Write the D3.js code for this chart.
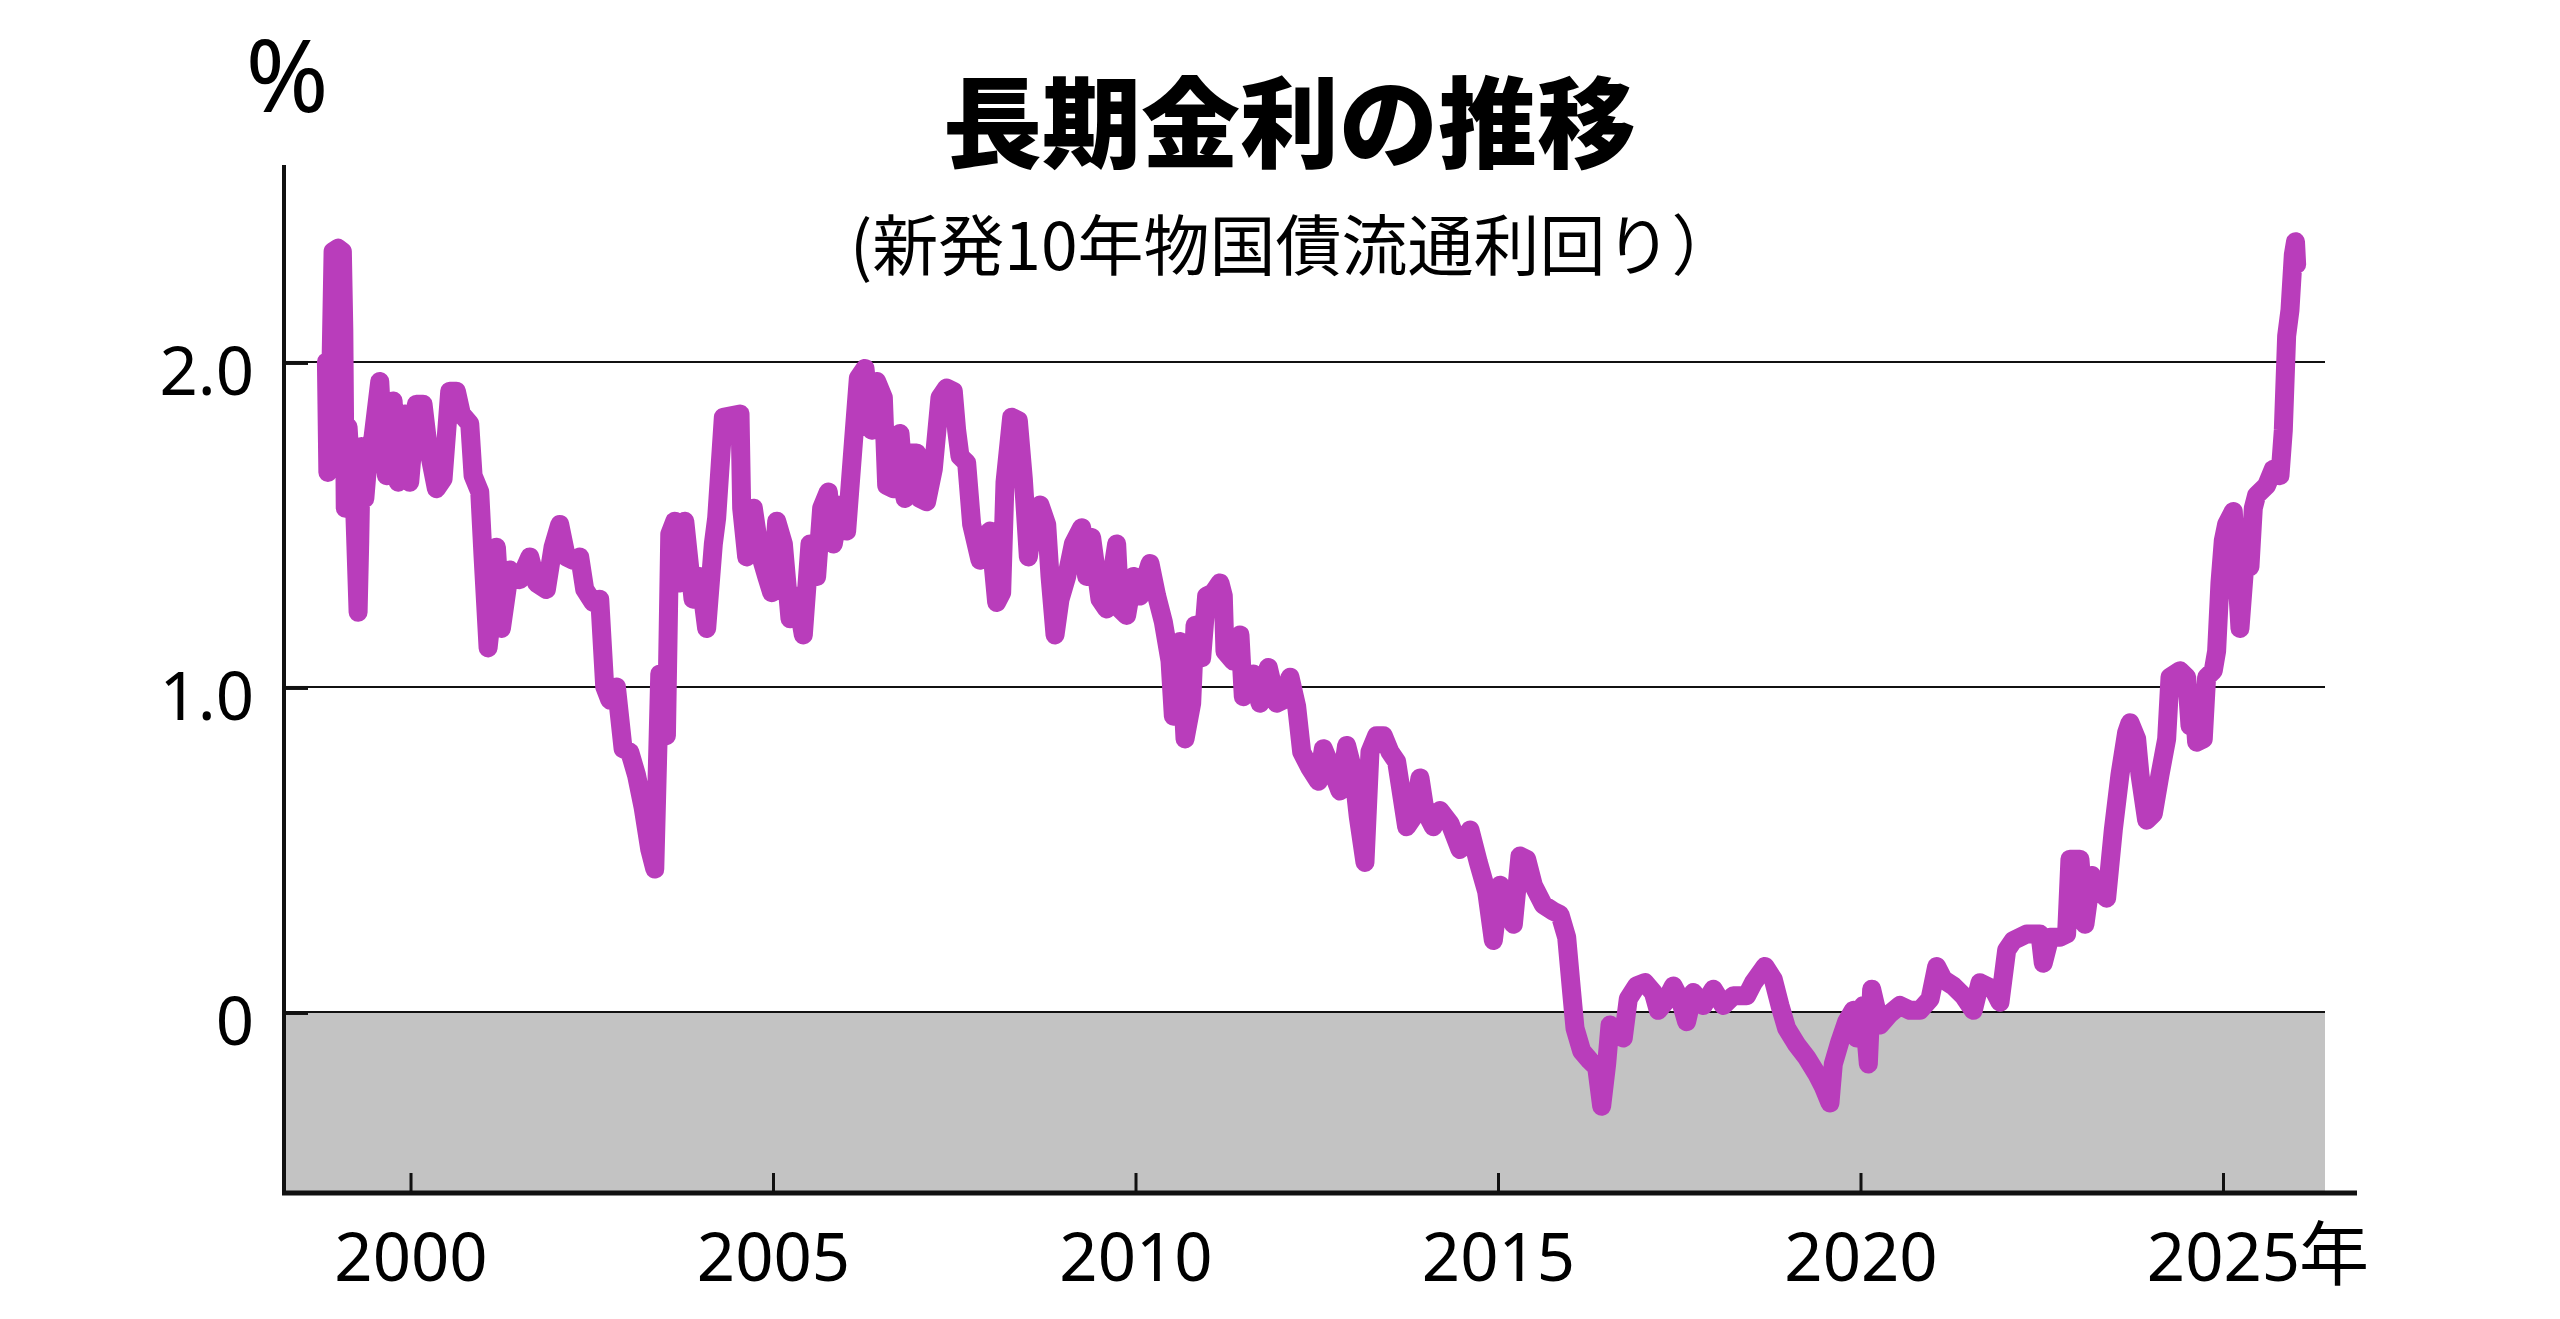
<!DOCTYPE html>
<html lang="ja">
<head>
  <meta charset="UTF-8">
  <title>長期金利の推移</title>
  <script src="https://d3js.org/d3.v7.min.js"></script>
  <style>
    html, body { margin: 0; padding: 0; background: #fff; }
    #chart { width: 2560px; height: 1319px; }
    text { fill: #000; }
  </style>
</head>
<body>
  <div id="chart"></div>

  <script>
    // decimal year of each sample
    const dates = [
      1998.840, 1998.860, 1998.900, 1998.932, 1999.001, 1999.060, 1999.080, 1999.100, 1999.139, 1999.185,
      1999.230, 1999.277, 1999.300, 1999.323, 1999.370, 1999.415, 1999.484, 1999.576, 1999.620, 1999.668,
      1999.760, 1999.829, 1999.920, 1999.989, 2000.081, 2000.173, 2000.242, 2000.357, 2000.449, 2000.541,
      2000.633, 2000.702, 2000.817, 2000.863, 2000.955, 2001.001, 2001.070, 2001.139, 2001.185, 2001.254,
      2001.369, 2001.507, 2001.645, 2001.737, 2001.874, 2001.966, 2002.058, 2002.150, 2002.242, 2002.334,
      2002.403, 2002.518, 2002.610, 2002.679, 2002.748, 2002.840, 2002.932, 2003.024, 2003.116, 2003.208,
      2003.300, 2003.369, 2003.438, 2003.530, 2003.576, 2003.645, 2003.714, 2003.783, 2003.897, 2003.993,
      2004.085, 2004.177, 2004.223, 2004.315, 2004.545, 2004.568, 2004.637, 2004.729, 2004.821, 2004.913,
      2004.982, 2005.051, 2005.143, 2005.234, 2005.326, 2005.418, 2005.510, 2005.602, 2005.671, 2005.763,
      2005.832, 2005.924, 2006.016, 2006.108, 2006.177, 2006.269, 2006.361, 2006.430, 2006.522, 2006.568,
      2006.660, 2006.752, 2006.821, 2006.890, 2006.982, 2007.028, 2007.119, 2007.211, 2007.303, 2007.395,
      2007.487, 2007.533, 2007.579, 2007.671, 2007.740, 2007.855, 2007.993, 2008.085, 2008.154, 2008.200,
      2008.292, 2008.384, 2008.453, 2008.522, 2008.591, 2008.683, 2008.775, 2008.821, 2008.890, 2008.959,
      2009.051, 2009.143, 2009.258, 2009.326, 2009.395, 2009.510, 2009.602, 2009.740, 2009.786, 2009.878,
      2009.970, 2010.062, 2010.200, 2010.292, 2010.384, 2010.476, 2010.522, 2010.614, 2010.683, 2010.775,
      2010.821, 2010.913, 2010.981, 2011.073, 2011.165, 2011.211, 2011.234, 2011.349, 2011.441, 2011.487,
      2011.625, 2011.717, 2011.832, 2011.947, 2012.039, 2012.131, 2012.223, 2012.292, 2012.407, 2012.522,
      2012.591, 2012.683, 2012.820, 2012.912, 2013.004, 2013.073, 2013.165, 2013.234, 2013.326, 2013.418,
      2013.510, 2013.602, 2013.740, 2013.832, 2013.924, 2013.993, 2014.108, 2014.200, 2014.338, 2014.476,
      2014.614, 2014.729, 2014.844, 2014.936, 2015.028, 2015.120, 2015.212, 2015.303, 2015.395, 2015.487,
      2015.625, 2015.763, 2015.855, 2015.947, 2016.016, 2016.062, 2016.154, 2016.269, 2016.361, 2016.430,
      2016.499, 2016.545, 2016.636, 2016.728, 2016.797, 2016.912, 2017.027, 2017.142, 2017.211, 2017.303,
      2017.418, 2017.510, 2017.602, 2017.694, 2017.832, 2017.970, 2018.108, 2018.246, 2018.430, 2018.522,
      2018.682, 2018.797, 2018.889, 2018.981, 2019.119, 2019.257, 2019.395, 2019.487, 2019.579, 2019.625,
      2019.717, 2019.809, 2019.901, 2019.947, 2020.039, 2020.108, 2020.154, 2020.269, 2020.407, 2020.545,
      2020.683, 2020.821, 2020.959, 2021.051, 2021.143, 2021.281, 2021.418, 2021.556, 2021.648, 2021.832,
      2021.924, 2022.016, 2022.108, 2022.292, 2022.475, 2022.521, 2022.613, 2022.751, 2022.843, 2022.889,
      2023.027, 2023.096, 2023.188, 2023.303, 2023.395, 2023.487, 2023.579, 2023.671, 2023.717, 2023.809,
      2023.855, 2023.947, 2024.039, 2024.131, 2024.223, 2024.269, 2024.407, 2024.499, 2024.545, 2024.591,
      2024.636, 2024.728, 2024.774, 2024.866, 2024.912, 2024.958, 2025.004, 2025.050, 2025.142, 2025.234,
      2025.326, 2025.372, 2025.418, 2025.464, 2025.602, 2025.694, 2025.786, 2025.832, 2025.878, 2025.924,
      2025.970, 2026.000, 2026.016
    ];

    // 10-year JGB yield (%) at each date
    const yields = [
      2.00, 1.66, 1.95, 2.34, 2.35, 2.34, 2.10, 1.55, 1.80, 1.63,
      1.55, 1.23, 1.45, 1.74, 1.58, 1.70, 1.77, 1.94, 1.75, 1.65,
      1.88, 1.63, 1.84, 1.63, 1.87, 1.87, 1.74, 1.61, 1.64, 1.91,
      1.91, 1.84, 1.81, 1.65, 1.60, 1.40, 1.12, 1.26, 1.43, 1.18,
      1.36, 1.33, 1.40, 1.32, 1.30, 1.43, 1.50, 1.40, 1.39, 1.40,
      1.30, 1.26, 1.27, 1.00, 0.96, 1.00, 0.81, 0.80, 0.73, 0.63,
      0.50, 0.44, 1.04, 0.85, 1.47, 1.51, 1.32, 1.51, 1.27, 1.34,
      1.18, 1.44, 1.52, 1.83, 1.84, 1.55, 1.40, 1.55, 1.41, 1.34,
      1.29, 1.51, 1.44, 1.21, 1.28, 1.16, 1.44, 1.34, 1.55, 1.60,
      1.44, 1.56, 1.48, 1.75, 1.95, 1.98, 1.79, 1.94, 1.89, 1.62,
      1.61, 1.78, 1.58, 1.72, 1.72, 1.58, 1.57, 1.67, 1.89, 1.92,
      1.91, 1.79, 1.71, 1.69, 1.50, 1.39, 1.48, 1.26, 1.29, 1.63,
      1.83, 1.82, 1.64, 1.40, 1.51, 1.56, 1.50, 1.34, 1.16, 1.27,
      1.34, 1.44, 1.49, 1.34, 1.46, 1.27, 1.24, 1.44, 1.24, 1.22,
      1.34, 1.28, 1.38, 1.28, 1.20, 1.08, 0.91, 1.14, 0.84, 0.95,
      1.19, 1.09, 1.28, 1.29, 1.32, 1.28, 1.11, 1.08, 1.16, 0.97,
      1.04, 0.95, 1.06, 0.95, 0.96, 1.03, 0.94, 0.80, 0.75, 0.71,
      0.81, 0.76, 0.68, 0.82, 0.74, 0.60, 0.46, 0.80, 0.85, 0.85,
      0.80, 0.77, 0.57, 0.60, 0.72, 0.62, 0.57, 0.62, 0.58, 0.50,
      0.56, 0.46, 0.37, 0.22, 0.39, 0.33, 0.27, 0.48, 0.47, 0.39,
      0.33, 0.31, 0.30, 0.23, 0.06, -0.05, -0.12, -0.15, -0.17, -0.29,
      -0.16, -0.04, -0.07, -0.08, 0.04, 0.08, 0.09, 0.06, 0.005, 0.03,
      0.08, 0.04, -0.03, 0.06, 0.02, 0.07, 0.02, 0.05, 0.05, 0.09,
      0.14, 0.10, 0.02, -0.05, -0.10, -0.14, -0.19, -0.23, -0.28, -0.16,
      -0.09, -0.03, 0.005, -0.08, 0.02, -0.16, 0.07, -0.04, -0.005, 0.02,
      0.005, 0.005, 0.04, 0.14, 0.10, 0.08, 0.05, 0.005, 0.09, 0.07,
      0.03, 0.19, 0.22, 0.24, 0.24, 0.15, 0.23, 0.23, 0.24, 0.47,
      0.47, 0.27, 0.42, 0.37, 0.35, 0.56, 0.73, 0.86, 0.89, 0.84,
      0.73, 0.59, 0.61, 0.73, 0.84, 1.03, 1.05, 1.03, 0.88, 0.98,
      0.83, 0.84, 1.03, 1.05, 1.11, 1.32, 1.45, 1.50, 1.54, 1.18,
      1.45, 1.37, 1.55, 1.59, 1.62, 1.67, 1.65, 1.79, 2.08, 2.16,
      2.33, 2.37, 2.30
    ];

    // axis ticks
    const xTickYears = [2000, 2005, 2010, 2015, 2020, 2025];
    const yTickValues = [0, 1, 2];
    const yTickLabels = ['0', '1.0', '2.0'];

    const width = 2560, height = 1319;
    const plotLeft = 284, plotRight = 2325, axisEnd = 2357;
    const plotTop = 165, plotBottom = 1193;
    const lineColor = '#b93dbb';

    const x = d3.scaleLinear()
      .domain([1998.255, 2026.407])
      .range([plotLeft, plotRight]);

    const y = d3.scaleLinear()
      .domain([-0.557, 2.606])
      .range([plotBottom, plotTop]);

    const svg = d3.select('#chart')
      .append('svg')
      .attr('width', width)
      .attr('height', height)
      .attr('viewBox', `0 0 ${width} ${height}`);

    // grey band below zero
    svg.append('rect')
      .attr('x', plotLeft)
      .attr('y', y(0))
      .attr('width', plotRight - plotLeft)
      .attr('height', plotBottom - y(0))
      .attr('fill', '#c3c3c3');

    // horizontal grid lines
    svg.append('g')
      .selectAll('line')
      .data(yTickValues)
      .enter()
      .append('line')
      .attr('x1', plotLeft)
      .attr('x2', plotRight)
      .attr('y1', d => y(d))
      .attr('y2', d => y(d))
      .attr('stroke', '#111')
      .attr('stroke-width', 2);

    // y tick marks (pointing into the plot) and labels
    svg.append('g')
      .selectAll('line')
      .data(yTickValues)
      .enter()
      .append('line')
      .attr('x1', plotLeft)
      .attr('x2', plotLeft + 24)
      .attr('y1', d => y(d) + 1)
      .attr('y2', d => y(d) + 1)
      .attr('stroke', '#111')
      .attr('stroke-width', 4);

    svg.append('g')
      .selectAll('text')
      .data(yTickValues)
      .enter()
      .append('text')
      .attr('x', 254)
      .attr('y', d => y(d) + 9)
      .attr('dy', '0.36em')
      .attr('text-anchor', 'end')
      .attr('font-family', '"Noto Sans", sans-serif')
      .attr('font-size', 67)
      .text((d, i) => yTickLabels[i]);

    // the yield line
    const points = dates.map((d, i) => ({ t: d, v: yields[i] }));

    const line = d3.line()
      .x(d => x(d.t))
      .y(d => y(d.v));

    svg.append('path')
      .datum(points)
      .attr('d', line)
      .attr('fill', 'none')
      .attr('stroke', lineColor)
      .attr('stroke-width', 19)
      .attr('stroke-linejoin', 'round')
      .attr('stroke-linecap', 'round');

    // y axis line
    svg.append('line')
      .attr('x1', plotLeft)
      .attr('x2', plotLeft)
      .attr('y1', plotTop)
      .attr('y2', plotBottom + 2)
      .attr('stroke', '#111')
      .attr('stroke-width', 4);

    // x axis
    const xAxis = d3.axisBottom(x)
      .tickValues(xTickYears)
      .tickSizeInner(-20)
      .tickSizeOuter(0)
      .tickPadding(40)
      .tickFormat(d3.format('d'));

    const gx = svg.append('g')
      .attr('transform', `translate(0,${plotBottom})`)
      .call(xAxis);

    gx.select('.domain').remove();
    gx.selectAll('.tick line')
      .attr('stroke', '#111')
      .attr('stroke-width', 3);
    gx.selectAll('.tick text')
      .attr('font-family', '"Noto Sans", sans-serif')
      .attr('font-size', 67)
      .attr('fill', '#000');

    svg.append('line')
      .attr('x1', plotLeft - 2)
      .attr('x2', axisEnd)
      .attr('y1', plotBottom)
      .attr('y2', plotBottom)
      .attr('stroke', '#111')
      .attr('stroke-width', 5);

    // unit after the last year label
    svg.append('text')
      .attr('x', x(2025) + 76)
      .attr('y', plotBottom + 87)
      .attr('font-family', '"Noto Sans CJK JP", sans-serif')
      .attr('font-size', 70)
      .text('年');

    // unit label of y axis
    svg.append('text')
      .attr('x', 287)
      .attr('y', 112)
      .attr('text-anchor', 'middle')
      .attr('font-family', '"Noto Sans", sans-serif')
      .attr('font-size', 100)
      .text('%');

    // titles
    svg.append('text')
      .attr('x', 943)
      .attr('y', 160)
      .attr('font-family', '"Noto Sans CJK JP", sans-serif')
      .attr('font-weight', 900)
      .attr('font-size', 99)
      .text('長期金利の推移');

    svg.append('text')
      .attr('x', 850)
      .attr('y', 270)
      .attr('font-family', '"Noto Sans CJK JP", sans-serif')
      .attr('font-size', 66)
      .text('(新発10年物国債流通利回り）');
  </script>
</body>
</html>
